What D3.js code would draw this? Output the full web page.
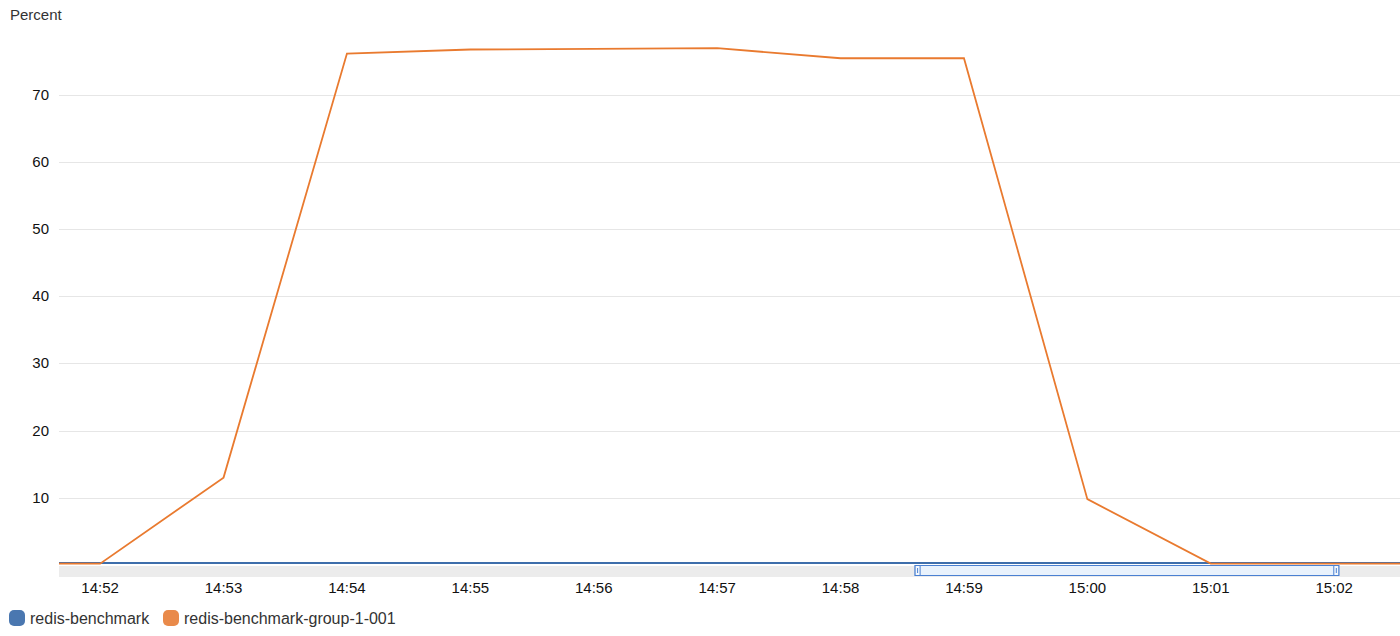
<!DOCTYPE html>
<html><head><meta charset="utf-8">
<script src="https://cdn.jsdelivr.net/npm/d3@7"></script>
<style>
body{margin:0;background:#fff;font-family:"Helvetica Neue",Helvetica,Arial,"Liberation Sans",sans-serif;}
</style></head>
<body><svg id="c" width="1400" height="636"></svg>
<script>
const times = ["14:51","14:52","14:53","14:54","14:55","14:56","14:57","14:58","14:59","15:00","15:01","15:02","15:03"];
const seriesNames = ["redis-benchmark","redis-benchmark-group-1-001"];
const blueValues = [0.3,0.3,0.3,0.3,0.3,0.3,0.3,0.3,0.3,0.3,0.3,0.3,0.3];
const orangeValues = [0.2,0.2,13.0,76.1,76.7,76.8,76.9,75.4,75.4,9.8,0.2,0.2,0.2];
const yTicks = [10,20,30,40,50,60,70];
const xTickLabels = ["14:52","14:53","14:54","14:55","14:56","14:57","14:58","14:59","15:00","15:01","15:02"];
const colors = ["#3e6eab","#e97a2f"];
const legendColors = ["#4a77b0","#e98a4a"];

const parse = s => { const [h,m] = s.split(":").map(Number); return new Date(2020,0,1,h,m,0); };
const svg = d3.select("#c");
const L = 59, R = 1400, T = 30, B = 565;
const x = d3.scaleTime().domain([new Date(2020,0,1,14,51,40), new Date(2020,0,1,15,2,32)]).range([L,R]);
const y = d3.scaleLinear().domain([0,79.6]).range([B,T]);

svg.append("text").attr("x",10).attr("y",20).attr("font-size",15).attr("fill","#333").text("Percent");

// grid
svg.append("g").selectAll("line").data(yTicks).join("line")
  .attr("x1",L).attr("x2",R).attr("y1",d=>Math.round(y(d))+0.5).attr("y2",d=>Math.round(y(d))+0.5)
  .attr("stroke","#e6e6e6").attr("stroke-width",1);
svg.append("g").selectAll("text").data(yTicks).join("text")
  .attr("x",49).attr("y",d=>y(d)+5).attr("text-anchor","end").attr("font-size",15).attr("fill","#111").text(d=>d);

// scroll bar
svg.append("rect").attr("x",L).attr("y",566).attr("width",R-L).attr("height",11).attr("fill","#ececec");
const sx0 = x(new Date(2020,0,1,14,58,36)), sx1 = x(new Date(2020,0,1,15,2,2));
svg.append("rect").attr("x",sx0+0.5).attr("y",565.5).attr("width",sx1-sx0).attr("height",10).attr("fill","#e9f2fc").attr("stroke","#4a80d2").attr("stroke-width",1);
[sx0, sx1-5].forEach(px=>{
  svg.append("rect").attr("x",px+0.5).attr("y",565.5).attr("width",5).attr("height",10).attr("fill","#f4f8fd").attr("stroke","#4a80d2");
  svg.append("line").attr("x1",px+3).attr("x2",px+3).attr("y1",568).attr("y2",573).attr("stroke","#4a80d2");
});

// x labels
svg.append("g").selectAll("text").data(xTickLabels).join("text")
  .attr("x",d=>x(parse(d))).attr("y",593).attr("text-anchor","middle").attr("font-size",15).attr("fill","#111").text(d=>d);

// lines
svg.append("clipPath").attr("id","clip").append("rect").attr("x",L).attr("y",0).attr("width",R-L).attr("height",B+1);
const line = d3.line().x((d,i)=>x(parse(times[i]))).y(d=>y(d));
const g = svg.append("g").attr("clip-path","url(#clip)");
g.append("path").attr("d",line(blueValues)).attr("fill","none").attr("stroke",colors[0]).attr("stroke-width",2.2);
g.append("path").attr("d",line(orangeValues)).attr("fill","none").attr("stroke",colors[1]).attr("stroke-width",1.8).attr("stroke-linejoin","miter");

// legend
const lg = svg.append("g");
const lx = [9,163];
seriesNames.forEach((n,i)=>{
  lg.append("rect").attr("x",lx[i]).attr("y",610).attr("width",16).attr("height",16).attr("rx",5).attr("fill",legendColors[i]);
  lg.append("text").attr("x",lx[i]+21).attr("y",624).attr("font-size",16).attr("fill","#333").text(n);
});
</script></body></html>
